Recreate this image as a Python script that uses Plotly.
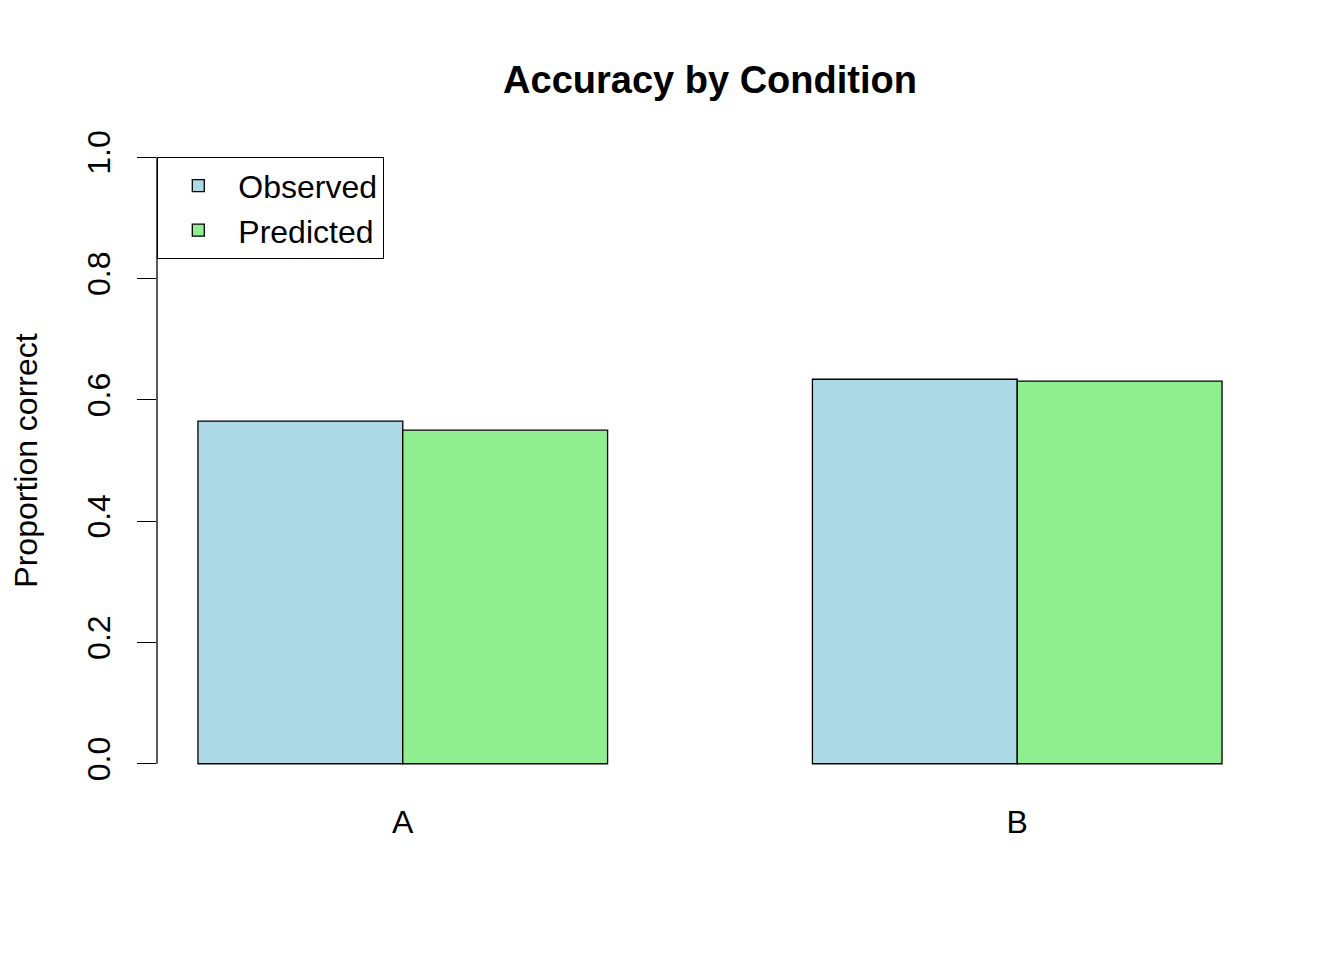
import plotly.graph_objects as go

conditions = ["A", "B"]
observed = [0.565, 0.634]
predicted = [0.550, 0.631]
y_ticks = [0.0, 0.2, 0.4, 0.6, 0.8, 1.0]
y_tick_labels = ["0.0", "0.2", "0.4", "0.6", "0.8", "1.0"]

FONT = "Liberation Sans, Arial, Helvetica, sans-serif"

# page body has an 8px default margin; compensate
W, H = 1336, 952
L, R, T, B = 149, 81, 125, 172

fig = go.Figure()
fig.add_trace(go.Bar(x=conditions, y=observed, name="Observed", legendgroup="o",
                     marker=dict(color="#ADD8E6", line=dict(color="black", width=1.3))))
fig.add_trace(go.Bar(x=conditions, y=predicted, name="Predicted", legendgroup="p",
                     marker=dict(color="#90EE90", line=dict(color="black", width=1.3))))

plot_h = H - T - B
fig.update_layout(
    width=W, height=H,
    margin=dict(l=L, r=R, t=T, b=B, autoexpand=False),
    paper_bgcolor="white", plot_bgcolor="white",
    font=dict(family=FONT, size=32, color="black"),
    barmode="group", bargap=1/3, bargroupgap=0,
    title=dict(text="<b>Accuracy by Condition</b>", x=(L + (W - R)) / 2 / W, xanchor="center",
               y=1 - 72 / H, yanchor="middle", font=dict(size=38)),
    showlegend=True,
    legend=dict(x=0, xanchor="left", y=(plot_h - 24) / plot_h, yanchor="top",
                bordercolor="black", borderwidth=1.3, bgcolor="white",
                font=dict(size=32), tracegroupgap=0, traceorder="normal",
                itemwidth=70),
    xaxis=dict(range=[-0.4, 1.4], showline=False, showgrid=False, zeroline=False,
               automargin=False,
               ticks="", ticklabelstandoff=12, tickfont=dict(size=32)),
    yaxis=dict(range=[-0.04, 1.04], showline=False, showgrid=False, zeroline=False,
               automargin=False,
               tickmode="array", tickvals=y_ticks, ticktext=y_tick_labels,
               ticks="outside", ticklen=19, tickwidth=1.3, tickcolor="black",
               tickangle=-90, ticklabelstandoff=14, tickfont=dict(size=32),
               title=dict(text="Proportion correct", standoff=39, font=dict(size=32))),
)

fig.add_shape(type="line", xref="paper", yref="y", x0=0, x1=0, y0=y_ticks[0], y1=y_ticks[-1],
              line=dict(color="black", width=1.3), layer="above")

fig.write_html("out.html")
